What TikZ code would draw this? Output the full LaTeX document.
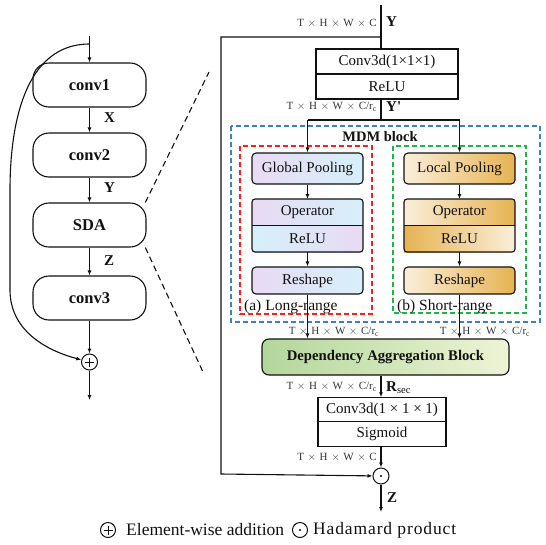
\documentclass[tikz,border=0pt]{standalone}
\usepackage{fontspec}
\setmainfont{Liberation Serif}
\usetikzlibrary{arrows.meta,positioning}
\definecolor{SdaInk}{HTML}{111111}
\definecolor{SdaDim}{HTML}{333333}
\definecolor{SdaLav}{HTML}{E9DAF4}
\definecolor{SdaCyan}{HTML}{D6F0FA}
\definecolor{SdaCream}{HTML}{FBEEDA}
\definecolor{SdaGold}{HTML}{E6B352}
\definecolor{SdaGreen}{HTML}{B3D69B}
\definecolor{SdaLime}{HTML}{EEF4D5}
\definecolor{SdaRed}{HTML}{FF1E1E}
\definecolor{SdaMint}{HTML}{22B14C}
\definecolor{SdaBlue}{HTML}{3A80C6}
\newcommand{\dimx}{\hspace{3.6pt}$\times$\hspace{3.6pt}}
\newcommand{\dimrc}{r\textsubscript{c}}
\tikzset{
  sdalabel/.style={font=\fontsize{15}{17}\selectfont, text=SdaInk},
  dimlabel/.style={font=\fontsize{11}{12}\selectfont, text=SdaDim, inner sep=1pt},
  varlabel/.style={font=\bfseries\fontsize{15}{17}\selectfont, text=SdaInk, inner sep=1pt},
  tagtext/.style={font=\fontsize{15.5}{17}\selectfont, text=SdaInk, inner sep=1pt},
  keytext/.style={font=\fontsize{17.5}{19}\selectfont, text=SdaInk, inner sep=1pt, anchor=west},
  pillbox/.style={rectangle, draw=SdaInk, line width=1.1pt, rounded corners=16pt, minimum width=113pt, minimum height=44pt, font=\bfseries\fontsize{16.5}{18}\selectfont},
  convbox/.style={rectangle, draw=SdaInk, line width=1.1pt, fill=white, minimum height=25pt, inner sep=0pt, outer sep=0pt},
  gradbox/.style={rectangle, draw=SdaInk, line width=1.1pt, rounded corners=4pt, minimum width=111pt, inner sep=0pt},
  halfbox/.style={rectangle, minimum width=111pt, minimum height=26.5pt, inner sep=0pt, outer sep=0pt},
  longshade/.style={left color=SdaLav, right color=SdaCyan},
  longback/.style={left color=SdaCyan, right color=SdaLav},
  shortshade/.style={left color=SdaCream, right color=SdaGold},
  shortback/.style={left color=SdaGold, right color=SdaCream},
  boxline/.style={draw=SdaInk, line width=1.1pt},
  plain/.style={draw=SdaInk, line width=1.1pt},
  flow/.style={-{Latex[length=5pt,width=4pt]}, draw=SdaInk, line width=1.1pt},
  zoomline/.style={draw=SdaInk, line width=1.1pt, dash pattern=on 6pt off 4pt},
  groupbox/.style={line width=1.1pt, dash pattern=on 5pt off 3pt},
  opcirc/.style={circle, draw=SdaInk, line width=1pt, minimum size=16pt, inner sep=0pt},
  plussign/.style={path picture={\draw[line width=0.9pt] ([xshift=-4.5pt]path picture bounding box.center) -- ([xshift=4.5pt]path picture bounding box.center) ([yshift=-4.5pt]path picture bounding box.center) -- ([yshift=4.5pt]path picture bounding box.center);}},
  dotsign/.style={path picture={\fill (path picture bounding box.center) circle (1.2pt);}}
}

\begin{document}
\begin{tikzpicture}[x=1pt, y=-1pt, every node/.style={sdalabel}]
\useasboundingbox (0,0) rectangle (546,544);

% bottleneck
\coordinate (in) at (89.5,36);
\coordinate (skip) at (89.5,44);
\coordinate (out) at (89.5,400);
\node[pillbox] (conv1) at (89.5,85) {conv1};
\node[pillbox] (conv2) at (89.5,155) {conv2};
\node[pillbox] (sda) at (89.5,225) {SDA};
\node[pillbox] (conv3) at (89.5,298) {conv3};
\node[opcirc, plussign] (plus) at (89.5,362) {};
\draw[flow] (in) -- (conv1);
\draw[flow] (conv1) -- node[varlabel, pos=0.4, right=13pt] {X} (conv2);
\draw[flow] (conv2) -- node[varlabel, pos=0.4, right=13pt] {Y} (sda);
\draw[flow] (sda) -- node[varlabel, pos=0.45, right=13pt] {Z} (conv3);
\draw[flow] (conv3) -- (plus);
\draw[flow] (plus) -- (out);
\draw[flow] (skip) to[out=180, in=90] (10,190) -- (10,290) to[out=-90, in=165] (plus);
\coordinate (zoomtop) at (209,72);
\coordinate (zoombot) at (203,372);
\draw[zoomline] (sda.22) -- (zoomtop);
\draw[zoomline] (sda.-22) -- (zoombot);

% SDA module
\coordinate (yin) at (381,5);
\coordinate (ysplit) at (381,37);
\coordinate (yside) at (221,474);
\node[convbox, minimum width=142pt] (conva) at (387,61.5) {Conv3d(1×1×1)};
\node[convbox, minimum width=142pt, below=0pt of conva] (relua) {ReLU};
\node[dimlabel, anchor=east] (dimy) at (378,23) {T\dimx H\dimx W\dimx C};
\node[varlabel, anchor=west] (namey) at (385,22) {Y};
\node[dimlabel, anchor=east] (dimyp) at (378,107) {T\dimx H\dimx W\dimx C/\dimrc};
\node[varlabel, anchor=west] (nameyp) at (385,107) {Y\textquotesingle};
\coordinate (psplit) at (381,120);
\draw[plain] (yin) -- (yin |- conva.north);
\draw[plain] (psplit |- relua.south) -- (psplit);

% MDM block
\draw[groupbox, SdaBlue] (231,126) rectangle (540,322);
\draw[groupbox, SdaRed] (240,146) rectangle (372,314);
\draw[groupbox, SdaMint] (393,146) rectangle (526,313);
\node[font=\bfseries\fontsize{14.5}{16}\selectfont] (mdm) at (380,137) {MDM block};

\node[gradbox, longshade, minimum height=31pt] (gpool) at (307.5,168.5) {Global Pooling};
\node[halfbox, longshade] (gop) at (307.5,212.25) {Operator};
\node[halfbox, longback, below=0pt of gop] (grelu) {ReLU};
\draw[boxline, rounded corners=3pt] (gop.north west) rectangle (grelu.south east);
\draw[boxline] (gop.south west) -- (gop.south east);
\node[gradbox, longshade, minimum height=27pt] (gresh) at (307.5,280.5) {Reshape};
\node[tagtext, anchor=base west] (longtag) at (243,310) {(a) Long-range};

\node[gradbox, shortshade, minimum height=31pt] (lpool) at (459.5,168.5) {Local Pooling};
\node[halfbox, shortshade] (lop) at (459.5,212.25) {Operator};
\node[halfbox, shortback, below=0pt of lop] (lrelu) {ReLU};
\draw[boxline, rounded corners=3pt] (lop.north west) rectangle (lrelu.south east);
\draw[boxline] (lop.south west) -- (lop.south east);
\node[gradbox, shortshade, minimum height=27pt] (lresh) at (459.5,280.5) {Reshape};
\node[tagtext, anchor=base west] (shorttag) at (396,310) {(b) Short-range};

\draw[plain] (gpool.north |- psplit) -- (lpool.north |- psplit);
\draw[flow] (gpool.north |- psplit) -- (gpool.north);
\draw[flow] (lpool.north |- psplit) -- (lpool.north);
\draw[flow] (gpool.south) -- (gop.north);
\draw[flow] (grelu.south) -- (gresh.north);
\draw[flow] (lpool.south) -- (lop.north);
\draw[flow] (lrelu.south) -- (lresh.north);

% aggregation
\node[gradbox, left color=SdaGreen, right color=SdaLime, minimum width=247pt, minimum height=36pt, rounded corners=7pt, font=\bfseries\fontsize{14.7}{16}\selectfont] (dab) at (385.5,357) {Dependency Aggregation Block};
\node[dimlabel] (dimlong) at (334,332) {T\dimx H\dimx W\dimx C/\dimrc};
\node[dimlabel] (dimshort) at (485,332) {T\dimx H\dimx W\dimx C/\dimrc};
\draw[flow] (gresh.south) -- (gresh.south |- dab.north);
\draw[flow] (lresh.south) -- (lresh.south |- dab.north);

\node[convbox, minimum width=128pt, minimum height=24.5pt] (convb) at (382,409.5) {Conv3d(1 × 1 × 1)};
\node[convbox, minimum width=128pt, minimum height=24.5pt, below=0pt of convb] (sigb) {Sigmoid};
\node[dimlabel, anchor=east] (dimrs) at (378,387) {T\dimx H\dimx W\dimx C/\dimrc};
\node[varlabel, anchor=west] (namers) at (385,388) {R\textsubscript{\mdseries sec}};
\draw[flow] (ysplit |- dab.south) -- (ysplit |- convb.north);

\node[opcirc, dotsign] (had) at (381,476) {};
\node[dimlabel, anchor=east] (dimz) at (378,457) {T\dimx H\dimx W\dimx C};
\coordinate (zout) at (381,512);
\node[varlabel, anchor=west] (namez) at (386,498) {Z};
\draw[flow] (ysplit |- sigb.south) -- (had);
\draw[flow] (ysplit) -| (yside) -- (had);
\draw[flow] (had) -- (zout);

% legend
\node[opcirc, plussign, minimum size=15pt] (keyadd) at (108,530) {};
\node[keytext] (keyaddtxt) at (125,530) {Element-wise addition};
\node[opcirc, dotsign, minimum size=15pt] (keyhad) at (300,530) {};
\node[keytext] (keyhadtxt) at (312,530) {\addfontfeatures{LetterSpace=5}Hadamard product};
\end{tikzpicture}
\end{document}
